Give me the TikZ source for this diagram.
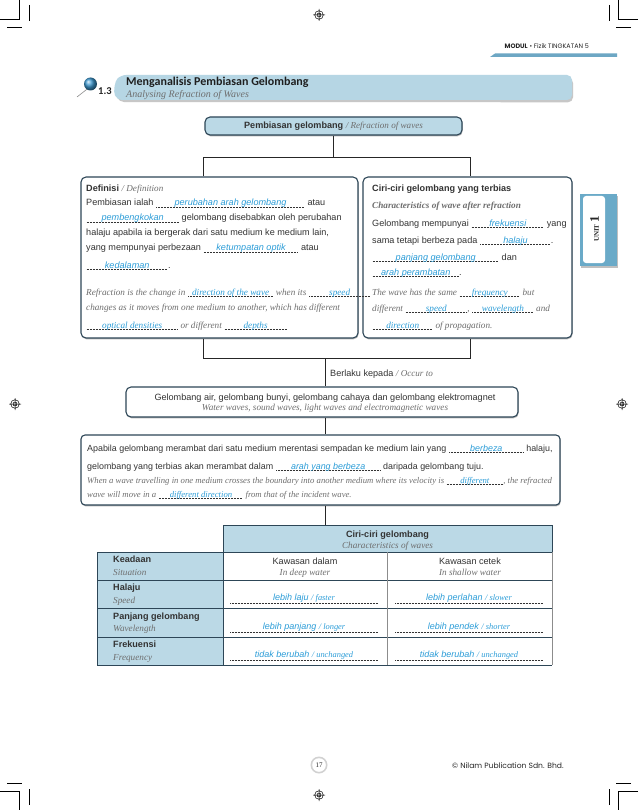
\documentclass[tikz,border=0pt]{standalone}
\usepackage{fontspec}
\setmainfont{Liberation Serif}
\setsansfont{Liberation Sans}
\newfontfamily\gothic{Poppins}
\newfontfamily\titlef{Carlito}
\usetikzlibrary{shadows}
\definecolor{lblue}{HTML}{BBD9E6}
\definecolor{bannerblue}{HTML}{B6D6E4}
\definecolor{border}{HTML}{2D4657}
\definecolor{ansblue}{HTML}{2C9DD8}
\definecolor{engray}{HTML}{6E6E6E}
\definecolor{txt}{HTML}{333333}
\definecolor{tabblue}{HTML}{6AAAC8}
\definecolor{barblue}{HTML}{6DA7C4}
\definecolor{pinblue}{HTML}{3C98D0}
\newcommand\ms{\sffamily\fontsize{9.1}{11}\selectfont}
\newcommand\es{\rmfamily\itshape\fontsize{9.2}{11}\selectfont}
\newcommand\msb{\sffamily\fontsize{8.9}{11}\selectfont}
\newcommand\esb{\rmfamily\itshape\fontsize{8.7}{11}\selectfont}
\newcommand\eng{\rmfamily\itshape\color{engray}}
\newcommand\dline[1]{\rlap{\color{txt}\leaders\hbox to 1.5pt{\hss\vrule width 0.7pt height -1.3pt depth 1.7pt\hss}\hskip #1pt}}
\newcommand\ansm[2]{\dline{#1}\makebox[#1pt][c]{\color{ansblue}\sffamily\itshape #2}}
\newcommand\anse[2]{\dline{#1}\makebox[#1pt][c]{\color{ansblue}\rmfamily\itshape #2}}
\newcommand\regmark[2]{\begin{scope}[shift={(#1,#2)}]\draw[line width=0.5pt] (0,0) circle (4.3pt) (0,0) circle (2pt) (-6,0) -- (6,0) (0,-6) -- (0,6);\end{scope}}
\tikzset{
  box/.style={draw=border, line width=1.1pt, rounded corners=5pt, fill=white, inner sep=0pt,
    drop shadow={shadow xshift=0.6pt, shadow yshift=-1.3pt, opacity=0.4, fill=black!70}},
  conn/.style={draw=black!85, line width=0.9pt},
  ml/.style={anchor=base west, inner sep=0pt, font=\ms, text=txt},
  el/.style={anchor=base west, inner sep=0pt, font=\es, text=engray},
  mlb/.style={anchor=base west, inner sep=0pt, font=\msb, text=txt},
  elb/.style={anchor=base west, inner sep=0pt, font=\esb, text=engray},
  mc/.style={anchor=base, inner sep=0pt, font=\ms, text=txt},
  ec/.style={anchor=base, inner sep=0pt, font=\es, text=engray},
  tl/.style={draw=border, line width=0.9pt},
  tthin/.style={draw=black!45, line width=0.5pt},
  dotl/.style={draw=txt, line width=0.45pt, dash pattern=on 0.7pt off 0.8pt},
  crop/.style={draw=black, line width=0.6pt},
}
\begin{document}
\begin{tikzpicture}[x=1pt,y=-1pt]
\useasboundingbox (0,0) rectangle (638,810);
\fill[white] (0,0) rectangle (638,810);

% crop marks
\draw[crop] (0,19) -- (19.5,19) -- (19.5,0);
\draw[crop] (29,5) -- (29,21);
\draw[crop] (7,27) -- (22,27);
\draw[crop] (638,19) -- (618.5,19) -- (618.5,0);
\draw[crop] (609,5) -- (609,21);
\draw[crop] (631,27) -- (616,27);
\draw[crop] (0,791) -- (19.5,791) -- (19.5,810);
\draw[crop] (29,805) -- (29,789);
\draw[crop] (7,783) -- (22,783);
\draw[crop] (638,791) -- (618.5,791) -- (618.5,810);
\draw[crop] (609,805) -- (609,789);
\draw[crop] (631,783) -- (616,783);
\regmark{319}{15}
\regmark{319}{795}
\regmark{15}{404}
\regmark{622}{404}

% header
\node[anchor=base east, inner sep=0pt, font=\gothic\fontsize{6.4}{7}\selectfont, text=black!85] (hdr) at (589,49) {{\bfseries MODUL} \textbullet\ Fizik TINGKATAN 5};
\fill[barblue] (490,57) -- (495,53.5) -- (617,53.5) -- (617,57) -- cycle;

% unit tab
\fill[black!25] (581,196) rectangle (618,268);
\fill[tabblue] (580,194) rectangle (617,266);
\fill[white, rounded corners=3pt] (583,196) rectangle (605,263);
\node[rotate=90, inner sep=0pt, font=\rmfamily\bfseries, text=black!85] (unit) at (594.5,229) {\fontsize{7}{8}\selectfont UNIT\ \fontsize{13}{13}\selectfont 1};

% banner
\fill[black!22, rounded corners=5pt] (119,102) .. controls (115,93) and (117,84) .. (123,78) -- (573,78) -- (573,102.3) -- cycle;
\fill[bannerblue, rounded corners=5pt] (117,100) .. controls (113,91) and (115,81) .. (121,75) -- (572,75) -- (572,100) -- cycle;
\draw[black!45, line width=0.6pt] (77,97) -- (88.5,88);
\shade[ball color=pinblue] (90.5,84) circle (6.5);
\node[anchor=base west, inner sep=0pt, font=\titlef\bfseries\fontsize{10.5}{11}\selectfont, text=black!85] (num) at (98,95) {1.3};
\node[anchor=base west, inner sep=0pt, font=\titlef\bfseries\fontsize{12}{13}\selectfont, text=black!88] (ttl) at (126,85.5) {Menganalisis Pembiasan Gelombang};
\node[anchor=base west, inner sep=0pt, font=\rmfamily\itshape\fontsize{10}{11}\selectfont, text=engray] (sub) at (126,97.3) {Analysing Refraction of Waves};

% top box
\node[box, fill=lblue, minimum width=257pt, minimum height=18pt] (top) at (333.5,126) {};
\node[anchor=base, inner sep=0pt, font=\ms, text=txt] (toptxt) at (333.5,129) {{\bfseries Pembiasan gelombang} {\eng / Refraction of waves}};

% definition box
\node[box, minimum width=277pt, minimum height=161pt] (def) at (219.5,257.5) {};
% characteristics box
\node[box, minimum width=209pt, minimum height=161pt] (cir) at (467.5,257.5) {};

% connectors from top
\coordinate (jl) at (203,157);
\coordinate (jr) at (470,157);
\draw[conn] (top.south) -- (top.south |- jl);
\draw[conn] (def.north -| jl) -- (jl) -- (jr) -- (cir.north -| jr);

% definition text
\node[ml] (d1) at (86,192) {{\bfseries Definisi} {\eng / Definition}};
\node[ml] (d2) at (86,206) {Pembiasan ialah \ansm{149}{perubahan arah gelombang} atau};
\node[ml] (d3) at (86,221) {\ansm{93}{pembengkokan} gelombang disebabkan oleh perubahan};
\node[ml] (d4) at (86,236) {halaju apabila ia bergerak dari satu medium ke medium lain,};
\node[ml] (d5) at (86,251) {yang mempunyai perbezaan \ansm{95}{ketumpatan optik} atau};
\node[ml] (d6) at (86,268) {\ansm{82}{kedalaman}.};
\node[el] (d7) at (86,295) {Refraction is the change in \anse{86}{direction of the wave} when its \anse{62}{speed}};
\node[el] (d8) at (86,310) {changes as it moves from one medium to another, which has different};
\node[el] (d9) at (86,328) {\anse{92}{optical densities} or different \anse{63}{depths}};

% characteristics text
\node[ml] (c1) at (372,192) {\bfseries Ciri-ciri gelombang yang terbias};
\node[el] (c2) at (372,209) {\bfseries Characteristics of wave after refraction};
\node[ml] (c3) at (372,226) {Gelombang mempunyai \ansm{73}{frekuensi} yang};
\node[ml] (c4) at (372,243) {sama tetapi berbeza pada \ansm{71}{halaju}.};
\node[ml] (c5) at (372,260) {\ansm{127}{panjang gelombang} dan};
\node[ml] (c6) at (372,275) {\ansm{87}{arah perambatan}.};
\node[el] (c7) at (372,295) {The wave has the same \anse{61}{frequency} but};
\node[el] (c8) at (372,311) {different \anse{62}{speed}, \anse{62}{wavelength} and};
\node[el] (c9) at (372,328) {\anse{61}{direction} of propagation.};

% lower connectors
\coordinate (kl) at (203,358);
\coordinate (kr) at (470,358);
\coordinate (km) at (325,358);
\draw[conn] (def.south -| kl) -- (kl) -- (kr) -- (cir.south -| kr);
\node[ml] (occ) at (330,376) {Berlaku kepada {\eng / Occur to}};

\node[box, minimum width=392pt, minimum height=30pt] (gel) at (322,402) {};
\draw[conn] (km) -- (gel.north -| km);
\node[mc] (g1) at (325,400) {Gelombang air, gelombang bunyi, gelombang cahaya dan gelombang elektromagnet};
\node[ec] (g2) at (325,410.5) {Water waves, sound waves, light waves and electromagnetic waves};

\node[box, rounded corners=4pt, minimum width=479pt, minimum height=70pt] (apa) at (320.5,470) {};
\draw[conn] (gel.south -| km) -- (apa.north -| km);
\node[mlb] (a1) at (87,451) {Apabila gelombang merambat dari satu medium merentasi sempadan ke medium lain yang \ansm{75}{berbeza} halaju,};
\node[mlb] (a2) at (87,469) {gelombang yang terbias akan merambat dalam \ansm{105}{arah yang berbeza} daripada gelombang tuju.};
\node[elb] (a3) at (87,483) {When a wave travelling in one medium crosses the boundary into another medium where its velocity is \anse{57}{different}, the refracted};
\node[elb] (a4) at (87,497) {wave will move in a \anse{85}{different direction} from that of the incident wave.};

% table
\fill[lblue] (97,552) rectangle (223,665);
\node[draw=border, fill=lblue, line width=0.9pt, minimum width=329pt, minimum height=27pt, inner sep=0pt] (thead) at (387.5,538.5) {};
\draw[conn] (apa.south -| km) -- (thead.north -| km);
\draw[tl] (97,552) -- (552,552);
\draw[tl] (97,580) -- (552,580);
\draw[tl] (97,608) -- (552,608);
\draw[tl] (97,637) -- (552,637);
\draw[tl] (97,665) -- (552,665);
\draw[tl] (97,552) -- (97,665);
\draw[tl] (223,552) -- (223,665);
\draw[tthin] (387,552) -- (387,665);
\draw[tthin] (552,552) -- (552,665);

\node[mc] (th1) at (387.5,537) {\bfseries Ciri-ciri gelombang};
\node[ec] (th2) at (387.5,548) {Characteristics of waves};
\node[ml] (k1) at (113,562) {\bfseries Keadaan};
\node[el] (k2) at (113,575) {Situation};
\node[ml] (h1) at (113,590) {\bfseries Halaju};
\node[el] (h2) at (113,603) {Speed};
\node[ml] (p1) at (113,619) {\bfseries Panjang gelombang};
\node[el] (p2) at (113,631) {Wavelength};
\node[ml] (f1) at (113,647) {\bfseries Frekuensi};
\node[el] (f2) at (113,660) {Frequency};
\node[mc] (m1) at (305,564) {Kawasan dalam};
\node[ec] (m2) at (305,575) {In deep water};
\node[mc] (r1) at (470,564) {Kawasan cetek};
\node[ec] (r2) at (470,575) {In shallow water};

\draw[dotl] (230,603) -- (378,603);
\draw[dotl] (395,603) -- (543,603);
\draw[dotl] (230,632) -- (378,632);
\draw[dotl] (395,632) -- (543,632);
\draw[dotl] (230,660) -- (378,660);
\draw[dotl] (395,660) -- (543,660);
\node[anchor=base, inner sep=0pt, text=ansblue] (v1) at (304,600) {{\sffamily\itshape\fontsize{9}{10}\selectfont lebih laju} {\rmfamily\itshape\fontsize{8.4}{10}\selectfont / faster}};
\node[anchor=base, inner sep=0pt, text=ansblue] (v2) at (469,600) {{\sffamily\itshape\fontsize{9}{10}\selectfont lebih perlahan} {\rmfamily\itshape\fontsize{8.4}{10}\selectfont / slower}};
\node[anchor=base, inner sep=0pt, text=ansblue] (v3) at (304,629) {{\sffamily\itshape\fontsize{9}{10}\selectfont lebih panjang} {\rmfamily\itshape\fontsize{8.4}{10}\selectfont / longer}};
\node[anchor=base, inner sep=0pt, text=ansblue] (v4) at (469,629) {{\sffamily\itshape\fontsize{9}{10}\selectfont lebih pendek} {\rmfamily\itshape\fontsize{8.4}{10}\selectfont / shorter}};
\node[anchor=base, inner sep=0pt, text=ansblue] (v5) at (304,657) {{\sffamily\itshape\fontsize{9}{10}\selectfont tidak berubah} {\rmfamily\itshape\fontsize{8.4}{10}\selectfont / unchanged}};
\node[anchor=base, inner sep=0pt, text=ansblue] (v6) at (469,657) {{\sffamily\itshape\fontsize{9}{10}\selectfont tidak berubah} {\rmfamily\itshape\fontsize{8.4}{10}\selectfont / unchanged}};

% footer
\fill[black!18] (319,765) circle (8.5);
\fill[white] (319,765) circle (6.8);
\node[inner sep=0pt, font=\rmfamily\fontsize{7}{8}\selectfont, text=black!85] (pg) at (319,765) {17};
\node[anchor=base west, inner sep=0pt, font=\gothic\fontsize{7.6}{9}\selectfont, text=black!85] (copy) at (452,768) {© Nilam Publication Sdn. Bhd.};
\end{tikzpicture}
\end{document}
